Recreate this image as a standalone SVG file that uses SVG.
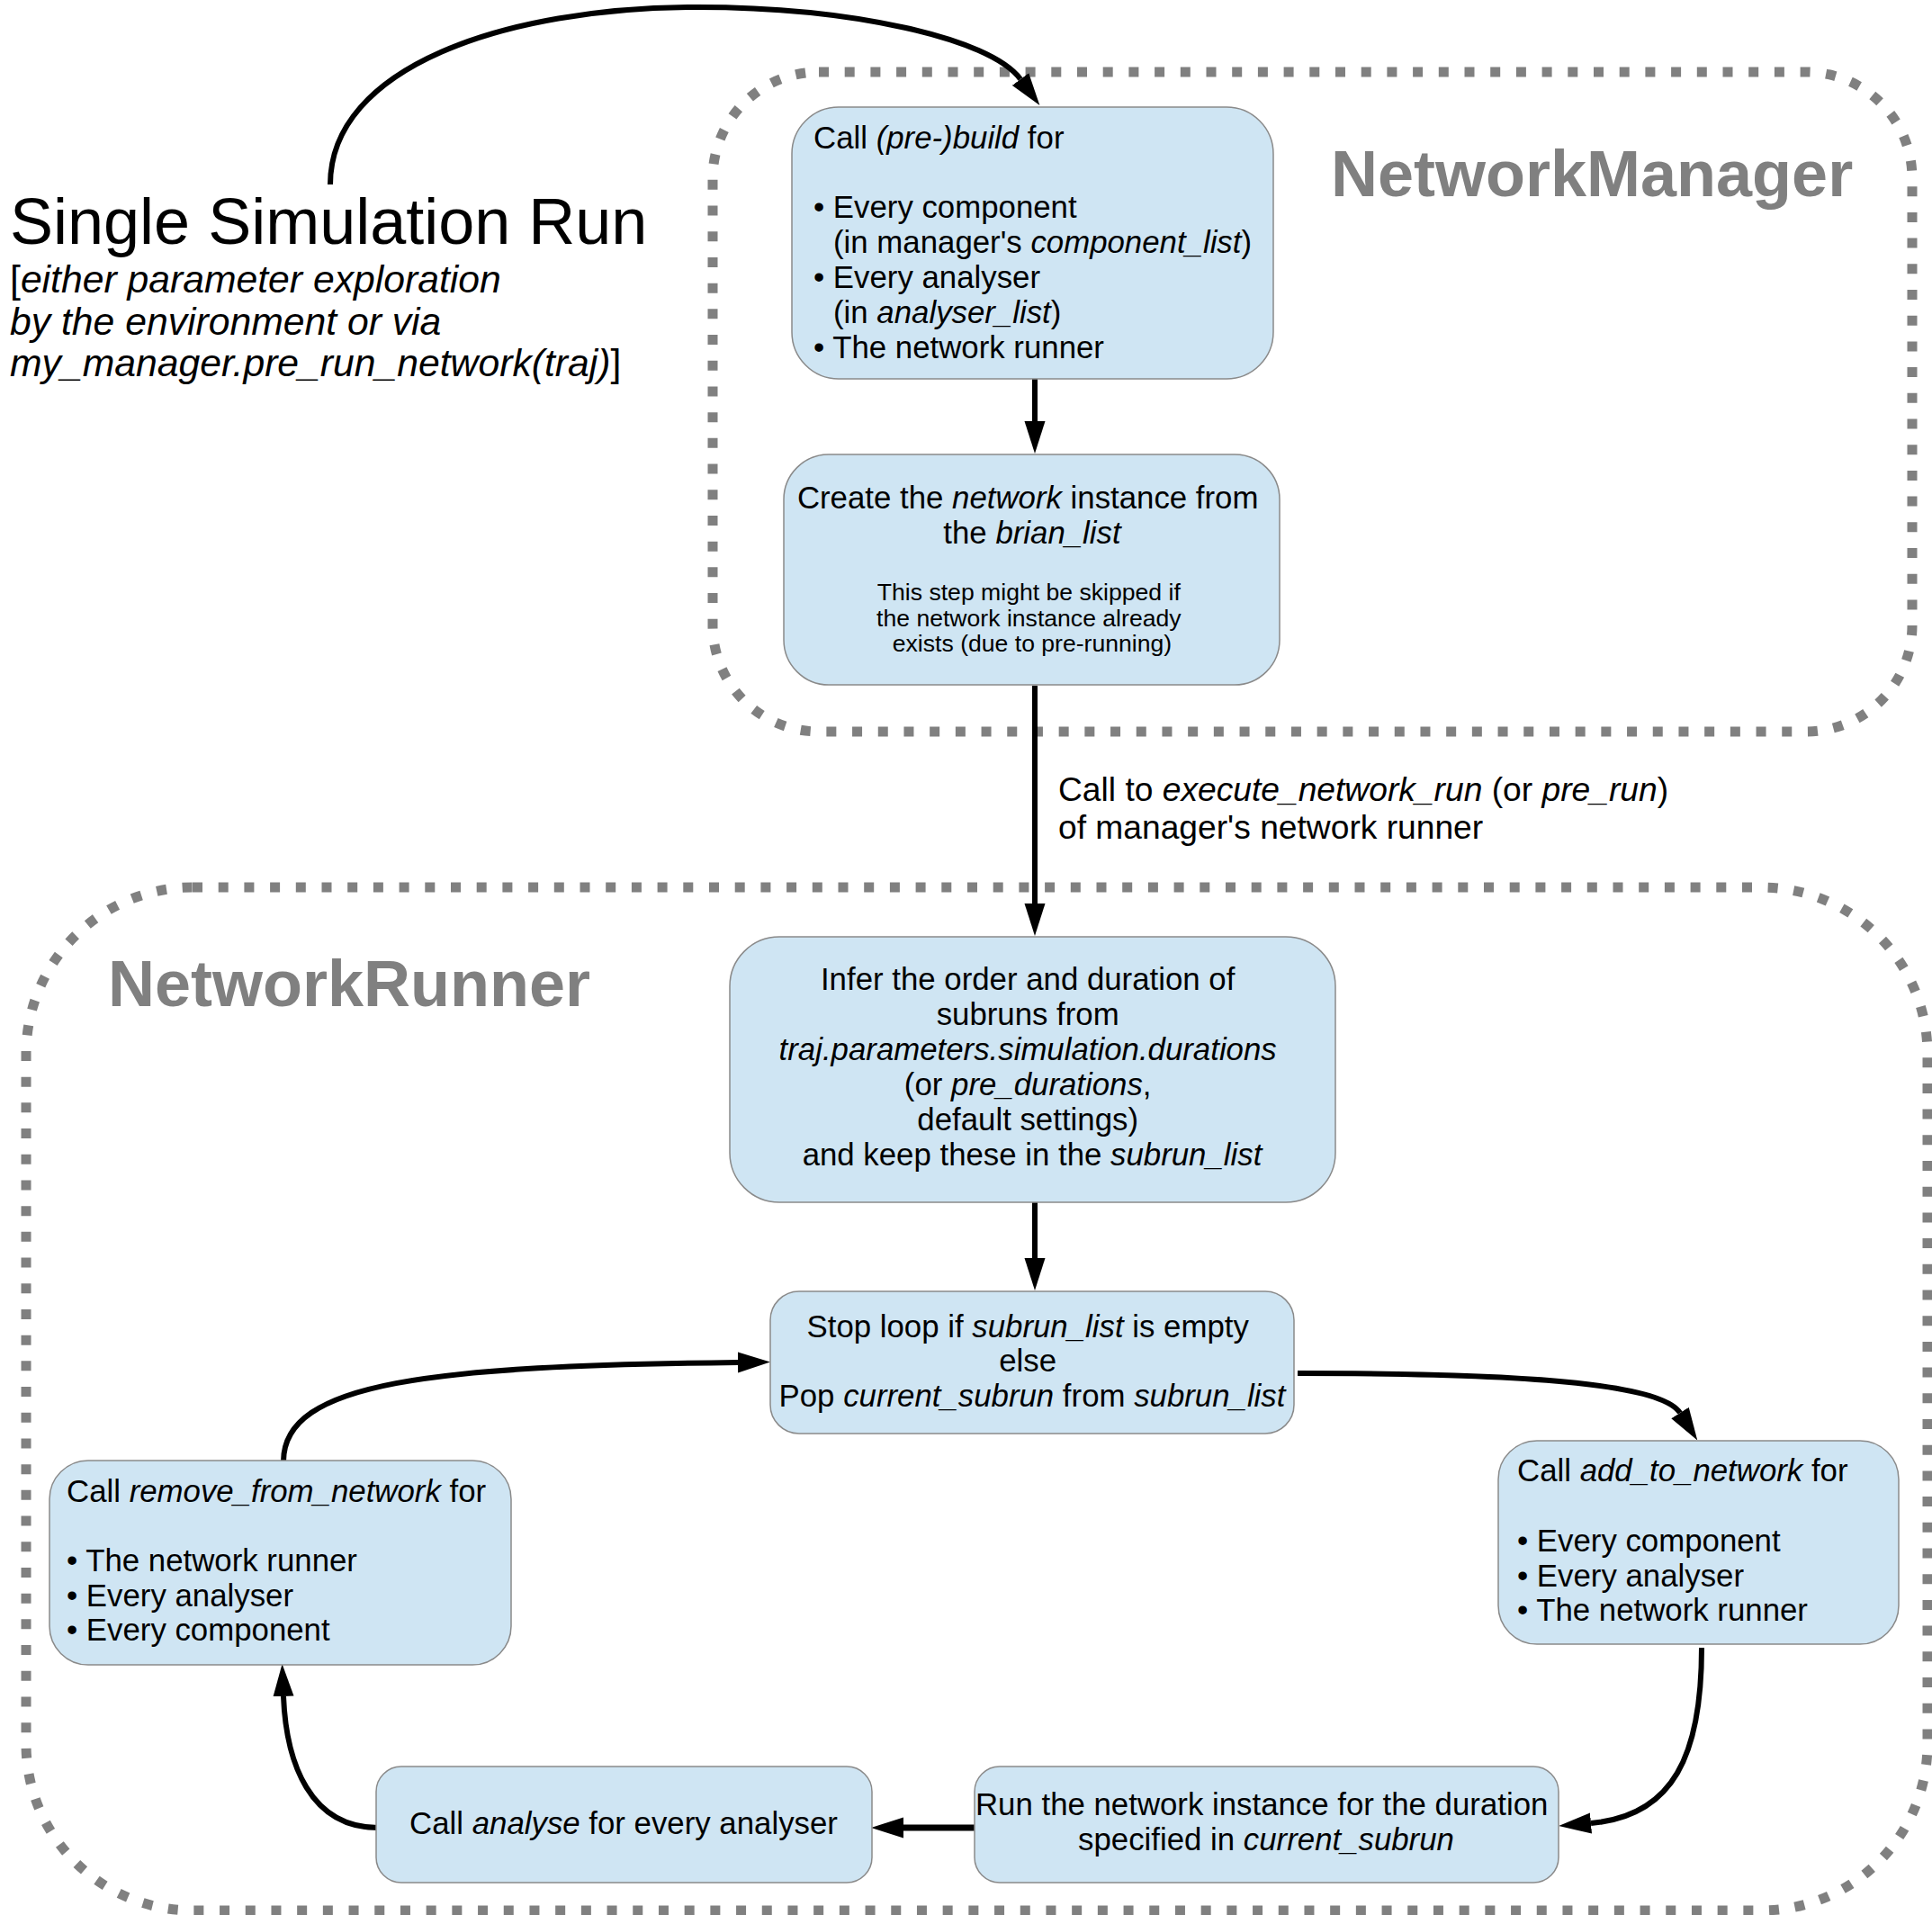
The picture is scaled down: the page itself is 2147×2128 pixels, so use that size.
<svg xmlns="http://www.w3.org/2000/svg" width="2147" height="2128" viewBox="0 0 2147 2128">
<defs>
<style>
.box{fill:#cfe5f3;stroke:#8a8a8a;stroke-width:1.5}
.t{font-family:"Liberation Sans",Arial,sans-serif;font-size:34.8px;fill:#000}
.s{font-size:26.6px}
.i{font-style:italic}
.c{text-anchor:middle}
.grp{fill:none;stroke:#808080;stroke-width:11;stroke-dasharray:11 17.7}
.big{font-family:"Liberation Sans",Arial,sans-serif;font-size:72px;font-weight:bold;fill:#808080}
.conn{fill:none;stroke:#000;stroke-width:6}
</style>
<marker id="ah" markerUnits="userSpaceOnUse" markerWidth="37" markerHeight="24" refX="0" refY="11.5" orient="auto" viewBox="0 0 37 23">
<path d="M0,0 L36,11.5 L0,23 z" fill="#000"/>
</marker>
</defs>
<rect width="2147" height="2128" fill="#fff"/>

<g id="group-manager">
<rect class="grp" x="792" y="80" width="1333" height="733" rx="118" ry="118"/>
<text class="big" x="1479" y="218">NetworkManager</text>
</g>
<g id="group-runner">
<rect class="grp" x="29" y="986" width="2113" height="1137" rx="185" ry="185"/>
<text class="big" x="120" y="1118">NetworkRunner</text>
</g>

<g id="title">
<text x="11" y="271" style="font-family:'Liberation Sans',Arial,sans-serif;font-size:72px;fill:#000">Single Simulation Run</text>
<text style="font-family:'Liberation Sans',Arial,sans-serif;font-size:42.7px;fill:#000">
<tspan x="11" y="325">[<tspan font-style="italic">either parameter exploration</tspan></tspan>
<tspan x="11" y="372" font-style="italic">by the environment or via</tspan>
<tspan x="11" y="418"><tspan font-style="italic">my_manager.pre_run_network(traj)</tspan>]</tspan>
</text>
</g>

<g id="connectors">
<path class="conn" d="M367 205 C367 75 560 8 775 8 C945 8 1100 42 1134 88" marker-end="url(#ah)"/>
<path class="conn" d="M1150 421 L1150 468" marker-end="url(#ah)"/>
<path class="conn" d="M1150 762 L1150 1004" marker-end="url(#ah)"/>
<path class="conn" d="M1150 1336 L1150 1398" marker-end="url(#ah)"/>
<path class="conn" d="M1442 1526 C1720 1526 1848 1540 1867 1570" marker-end="url(#ah)"/>
<path class="conn" d="M1891 1831 C1891 1950 1860 2018 1768 2026" marker-end="url(#ah)"/>
<path class="conn" d="M1083 2031 L1004 2031" style="stroke-width:7" marker-end="url(#ah)"/>
<path class="conn" d="M420 2031 C345 2031 318 1960 315 1885" marker-end="url(#ah)"/>
<path class="conn" d="M315 1624 C315 1535 480 1518 820 1514" marker-end="url(#ah)"/>
<text class="t" style="font-size:37.2px">
<tspan x="1176" y="890">Call to <tspan class="i">execute_network_run</tspan> (or <tspan class="i">pre_run</tspan>)</tspan>
<tspan x="1176" y="932">of manager's network runner</tspan>
</text>
</g>

<g id="node-build">
<rect class="box" x="880" y="119" width="535" height="302" rx="52" ry="52"/>
<text class="t">
<tspan x="904" y="165">Call <tspan class="i">(pre-)build</tspan> for</tspan>
<tspan x="904" y="242">• Every component</tspan>
<tspan x="926" y="281">(in manager's <tspan class="i">component_list</tspan>)</tspan>
<tspan x="904" y="320">• Every analyser</tspan>
<tspan x="926" y="359">(in <tspan class="i">analyser_list</tspan>)</tspan>
<tspan x="904" y="398">• The network runner</tspan>
</text>
</g>

<g id="node-create">
<rect class="box" x="871" y="505" width="551" height="256" rx="50" ry="50"/>
<text class="t c">
<tspan x="1147" y="565">Create the <tspan class="i">network</tspan> instance from</tspan>
<tspan x="1147" y="604">the <tspan class="i">brian_list</tspan></tspan>
</text>
<text class="t s c">
<tspan x="1147" y="667">This step might be skipped if</tspan>
<tspan x="1147" y="696">the network instance already</tspan>
<tspan x="1147" y="724">exists (due to pre-running)</tspan>
</text>
</g>

<g id="node-infer">
<rect class="box" x="811" y="1041" width="673" height="295" rx="55" ry="55"/>
<text class="t c">
<tspan x="1147" y="1100">Infer the order and duration of</tspan>
<tspan x="1147" y="1139">subruns from</tspan>
<tspan x="1147" y="1178" class="i">traj.parameters.simulation.durations</tspan>
<tspan x="1147" y="1217">(or <tspan class="i">pre_durations</tspan>,</tspan>
<tspan x="1147" y="1256">default settings)</tspan>
<tspan x="1147" y="1295">and keep these in the <tspan class="i">subrun_list</tspan></tspan>
</text>
</g>

<g id="node-loop">
<rect class="box" x="856" y="1435" width="582" height="158" rx="32" ry="32"/>
<text class="t c">
<tspan x="1147" y="1486">Stop loop if <tspan class="i">subrun_list</tspan> is empty</tspan>
<tspan x="1147" y="1524">else</tspan>
<tspan x="1147" y="1563">Pop <tspan class="i">current_subrun</tspan> from <tspan class="i">subrun_list</tspan></tspan>
</text>
</g>

<g id="node-add">
<rect class="box" x="1665" y="1601" width="445" height="226" rx="43" ry="43"/>
<text class="t">
<tspan x="1686" y="1646">Call <tspan class="i">add_to_network</tspan> for</tspan>
<tspan x="1686" y="1724">• Every component</tspan>
<tspan x="1686" y="1763">• Every analyser</tspan>
<tspan x="1686" y="1801">• The network runner</tspan>
</text>
</g>

<g id="node-run">
<rect class="box" x="1083" y="1963" width="649" height="129" rx="28" ry="28"/>
<text class="t c">
<tspan x="1407" y="2017">Run the network instance for the duration</tspan>
<tspan x="1407" y="2056">specified in <tspan class="i">current_subrun</tspan></tspan>
</text>
</g>

<g id="node-analyse">
<rect class="box" x="418" y="1963" width="551" height="129" rx="28" ry="28"/>
<text class="t c" x="693" y="2038">Call <tspan class="i">analyse</tspan> for every analyser</text>
</g>

<g id="node-remove">
<rect class="box" x="55" y="1623" width="513" height="227" rx="43" ry="43"/>
<text class="t">
<tspan x="74" y="1669">Call <tspan class="i">remove_from_network</tspan> for</tspan>
<tspan x="74" y="1746">• The network runner</tspan>
<tspan x="74" y="1785">• Every analyser</tspan>
<tspan x="74" y="1823">• Every component</tspan>
</text>
</g>
</svg>
